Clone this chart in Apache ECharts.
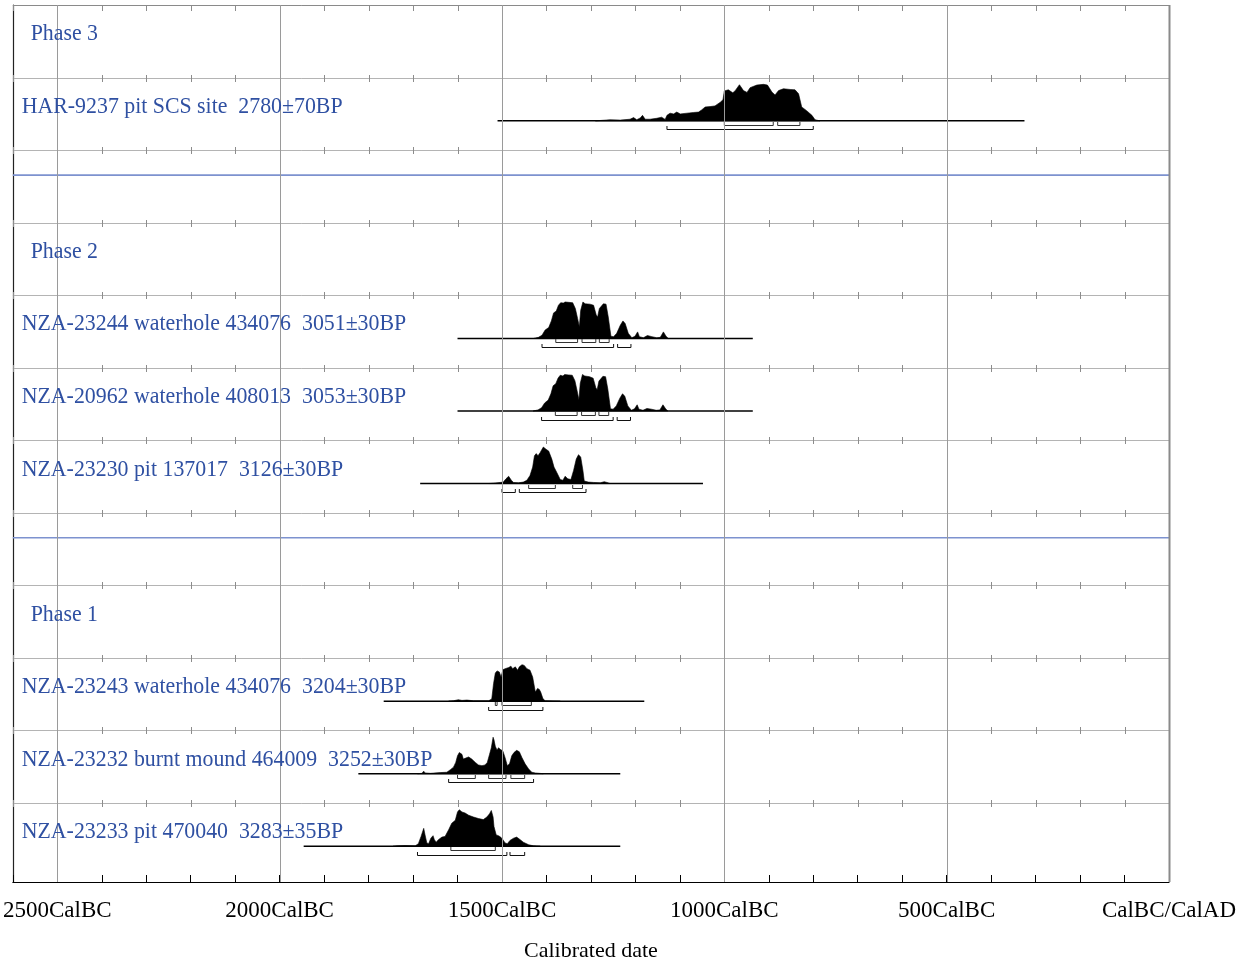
<!DOCTYPE html>
<html><head><meta charset="utf-8">
<script src="https://cdn.jsdelivr.net/npm/echarts@6/dist/echarts.min.js"></script>
<style>html,body{margin:0;padding:0;background:#fff}#c{width:1252px;height:967px}</style>
</head><body><div id="c"></div>
<script>
// ---- axis ----
const tickValues = [-2500, -2000, -1500, -1000, -500, 0];
const tickLabels = ['2500CalBC', '2000CalBC', '1500CalBC', '1000CalBC', '500CalBC', 'CalBC/CalAD'];
const axisTitle = 'Calibrated date';

// ---- rows (top to bottom) ----
const rowLabels = [
  'Phase 3',
  'HAR-9237 pit SCS site  2780±70BP',
  '',
  'Phase 2',
  'NZA-23244 waterhole 434076  3051±30BP',
  'NZA-20962 waterhole 408013  3053±30BP',
  'NZA-23230 pit 137017  3126±30BP',
  '',
  'Phase 1',
  'NZA-23243 waterhole 434076  3204±30BP',
  'NZA-23232 burnt mound 464009  3252±30BP',
  'NZA-23233 pit 470040  3283±35BP'
];
const phaseRows = [0, 3, 8];
const separatorRows = [2, 7];

// ---- distributions: [year BC, relative probability] ----
const har9237 = [[1290,0],[1257,0.03],[1234,0.02],[1212,0.045],[1204,0.09],[1197,0.03],[1189,0.08],[1184,0.15],[1178,0.045],[1167,0.045],[1152,0.07],[1141,0.10],[1133,0.04],[1129,0.15],[1122,0.21],[1114,0.19],[1107,0.24],[1099,0.19],[1084,0.21],[1069,0.23],[1058,0.24],[1051,0.30],[1043,0.38],[1032,0.39],[1021,0.41],[1009,0.51],[1003,0.58],[1000,0.82],[991,0.85],[981,0.77],[976,0.82],[966,0.99],[957,0.83],[949,0.78],[942,0.91],[927,0.98],[912,1.0],[903,0.98],[893,0.79],[886,0.71],[878,0.83],[867,0.88],[852,0.86],[841,0.85],[833,0.74],[826,0.38],[815,0.28],[803,0.15],[796,0.03],[785,0]];
const nza23244 = [[1429,0],[1418,0.03],[1410,0.09],[1403,0.23],[1395,0.30],[1389,0.48],[1384,0.70],[1378,0.75],[1373,0.91],[1368,0.98],[1362,0.97],[1358,1.0],[1350,0.99],[1341,0.98],[1335,0.82],[1330,0.55],[1326,0.32],[1323,0.77],[1318,1.0],[1313,0.95],[1302,0.94],[1294,0.91],[1288,0.64],[1285,0.59],[1281,0.82],[1272,0.95],[1266,0.94],[1261,0.59],[1255,0.06],[1249,0.05],[1242,0.14],[1234,0.36],[1228,0.48],[1223,0.41],[1216,0.14],[1208,0.02],[1201,0.06],[1195,0.18],[1191,0.05],[1182,0.02],[1173,0.08],[1163,0.05],[1152,0.02],[1144,0.03],[1137,0.18],[1131,0.06],[1126,0]];
const nza20962 = [[1430,0],[1419,0.03],[1411,0.09],[1404,0.22],[1396,0.30],[1390,0.47],[1385,0.69],[1379,0.75],[1374,0.90],[1369,0.98],[1363,0.96],[1359,1.0],[1351,0.99],[1342,0.98],[1336,0.83],[1331,0.55],[1327,0.31],[1324,0.76],[1319,1.0],[1314,0.96],[1303,0.94],[1295,0.90],[1289,0.64],[1286,0.58],[1282,0.82],[1273,0.95],[1267,0.94],[1262,0.60],[1256,0.06],[1250,0.05],[1243,0.14],[1235,0.35],[1229,0.47],[1224,0.41],[1217,0.14],[1209,0.02],[1202,0.06],[1196,0.17],[1192,0.05],[1183,0.02],[1174,0.07],[1164,0.05],[1153,0.02],[1145,0.03],[1138,0.17],[1132,0.06],[1127,0]];
const nza23230 = [[1530,0],[1519,0.01],[1504,0.03],[1497,0.04],[1491,0.13],[1485,0.20],[1479,0.09],[1474,0.03],[1463,0.02],[1452,0.04],[1444,0.09],[1437,0.22],[1431,0.45],[1427,0.76],[1423,0.82],[1419,0.76],[1414,0.85],[1410,0.94],[1407,1.0],[1401,0.94],[1395,0.89],[1388,0.67],[1383,0.45],[1377,0.31],[1369,0.11],[1363,0.09],[1358,0.20],[1352,0.13],[1345,0.11],[1339,0.36],[1333,0.67],[1328,0.79],[1323,0.73],[1318,0.36],[1315,0.07],[1306,0.04],[1294,0.03],[1279,0.02],[1270,0.05],[1264,0.03],[1257,0]];
const nza23243 = [[1620,0],[1609,0.01],[1598,0.04],[1590,0.02],[1579,0.03],[1564,0.01],[1530,0.01],[1523,0.06],[1519,0.48],[1515,0.77],[1511,0.83],[1506,0.80],[1502,0.66],[1498,0.86],[1493,0.89],[1485,0.92],[1480,0.96],[1476,0.89],[1470,0.94],[1465,0.85],[1461,0.94],[1455,1.0],[1450,0.98],[1444,0.89],[1437,0.85],[1431,0.66],[1425,0.25],[1420,0.35],[1416,0.32],[1413,0.25],[1408,0.07],[1403,0.01],[1369,0]];
const nza23232 = [[1690,0],[1680,0.01],[1676,0.07],[1673,0.02],[1661,0.01],[1639,0.03],[1624,0.04],[1616,0.11],[1609,0.18],[1604,0.31],[1600,0.49],[1596,0.58],[1590,0.53],[1587,0.40],[1583,0.42],[1575,0.46],[1568,0.40],[1560,0.31],[1553,0.24],[1545,0.22],[1538,0.24],[1533,0.31],[1528,0.53],[1524,0.71],[1520,1.0],[1518,0.93],[1515,0.75],[1511,0.64],[1508,0.71],[1503,0.66],[1498,0.62],[1493,0.44],[1488,0.22],[1483,0.27],[1478,0.49],[1473,0.58],[1467,0.64],[1461,0.60],[1455,0.44],[1448,0.27],[1440,0.13],[1433,0.04],[1425,0.02],[1407,0]];
const nza23233 = [[1745,0],[1736,0.01],[1718,0.02],[1695,0.01],[1688,0.07],[1682,0.27],[1676,0.49],[1673,0.31],[1669,0.09],[1665,0.07],[1660,0.22],[1655,0.29],[1652,0.18],[1648,0.11],[1643,0.18],[1635,0.25],[1628,0.27],[1620,0.45],[1613,0.63],[1605,0.71],[1600,0.94],[1596,1.0],[1590,0.94],[1583,0.91],[1575,0.85],[1564,0.80],[1553,0.76],[1542,0.73],[1534,0.80],[1528,0.89],[1524,0.98],[1520,0.80],[1518,0.54],[1513,0.31],[1508,0.29],[1503,0.25],[1498,0.18],[1493,0.09],[1488,0.07],[1482,0.16],[1474,0.22],[1467,0.25],[1459,0.18],[1452,0.11],[1440,0.04],[1429,0.01],[1414,0]];

// calculation spans [from BC, to BC]
const spans = [[1510,325],[1600,936],[1600,936],[1684,1048],[1766,1180],[1823,1234],[1946,1234]];
// 68.2% ranges
const ranges68 = [
  [[1000,890],[880,830]],
  [[1379,1330],[1320,1289],[1281,1259]],
  [[1380,1331],[1321,1290],[1282,1260]],
  [[1440,1380],[1341,1319]],
  [[1515,1511],[1500,1434]],
  [[1600,1560],[1530,1491],[1480,1449]],
  [[1615,1515]]
];
// 95.4% ranges
const ranges95 = [
  [[1129,800]],
  [[1410,1249],[1240,1210]],
  [[1411,1250],[1241,1211]],
  [[1500,1470],[1461,1311]],
  [[1530,1408]],
  [[1620,1429]],
  [[1690,1489],[1482,1449]]
];
const sampleRows = [1, 4, 5, 6, 9, 10, 11];
const sampleDists = [har9237, nza23244, nza20962, nza23230, nza23243, nza23232, nza23233];

// ---- style constants ----
const BASE = 0.597, HEIGHT = 0.503;
const labelColor = '#2f50a2';
const gridGray = '#9a9a9a';
const serif = '"Liberation Serif", "Times New Roman", serif';

const chart = echarts.init(document.getElementById('c'), null, {renderer: 'canvas'});

function px(v) { return Math.round(v) + 0.5; }

function renderGrid(params, api) {
  const children = [];
  const nRows = rowLabels.length;
  const xl = api.coord([-2600, 0])[0], xr = api.coord([0, 0])[0];
  const yTop = api.coord([0, 0])[1];
  const yBot = api.coord([0, 12.09])[1];
  // row lines with ticks
  for (let r = 0; r < nRows; r++) {
    const y = px(api.coord([0, r])[1]);
    children.push({type: 'line', shape: {x1: xl, y1: y, x2: xr, y2: y}, style: {stroke: r === 0 ? '#8a8a8a' : '#b4b4b4', lineWidth: 1}});
    for (let t = -2600; t <= 0; t += 100) {
      const x = px(api.coord([t, r])[0]);
      const up = r === 0 ? 0 : 3.5, down = r === 0 ? 5.5 : 3.5;
      children.push({type: 'line', shape: {x1: x, y1: y - up, x2: x, y2: y + down}, style: {stroke: '#8c8c8c', lineWidth: 1}});
    }
  }
  // separators
  separatorRows.forEach(function (r) {
    const y = api.coord([0, r + 0.345])[1];
    children.push({type: 'line', shape: {x1: xl, y1: y, x2: xr, y2: y}, style: {stroke: '#7d92cf', lineWidth: 1.6}});
  });
  // major vertical grid lines
  tickValues.forEach(function (v) {
    const x = px(api.coord([v, 0])[0]);
    children.push({type: 'line', shape: {x1: x, y1: yTop, x2: x, y2: yBot}, style: {stroke: v === 0 ? '#8a8a8a' : gridGray, lineWidth: v === 0 ? 2 : 1}});
  });
  return {type: 'group', children: children};
}

function renderDist(params, api) {
  const i = params.dataIndex;
  const row = sampleRows[i];
  const dist = sampleDists[i];
  const children = [];
  const yb = api.coord([0, row + BASE])[1];
  const pts = [];
  pts.push(api.coord([-dist[0][0], row + BASE]));
  dist.forEach(function (d) { pts.push(api.coord([-d[0], row + BASE - d[1] * HEIGHT])); });
  pts.push(api.coord([-dist[dist.length - 1][0], row + BASE]));
  children.push({type: 'polygon', shape: {points: pts}, style: {fill: '#000', stroke: '#000', lineWidth: 0.6}});
  const s = spans[i];
  children.push({type: 'line', shape: {x1: api.coord([-s[0], 0])[0], y1: yb, x2: api.coord([-s[1], 0])[0], y2: yb}, style: {stroke: '#000', lineWidth: 1.5}});
  function bracket(rg, off, color) {
    const y = Math.round(yb + off) + 0.5;
    const x1 = api.coord([-rg[0], 0])[0], x2 = api.coord([-rg[1], 0])[0];
    children.push({type: 'polyline', shape: {points: [[x1, y - 3.5], [x1, y], [x2, y], [x2, y - 3.5]]}, style: {stroke: color, lineWidth: 1, fill: null}});
  }
  ranges68[i].forEach(function (rg) { bracket(rg, 4, '#333'); });
  ranges95[i].forEach(function (rg) { bracket(rg, 8.5, '#111'); });
  return {type: 'group', children: children};
}

function renderLabels(params, api) {
  const children = [];
  rowLabels.forEach(function (txt, r) {
    if (!txt) return;
    const isPhase = phaseRows.indexOf(r) >= 0;
    const p = api.coord([isPhase ? -2560 : -2580, r + 0.40]);
    children.push({
      type: 'text', x: p[0], y: p[1], scaleX: 0.91, scaleY: 1,
      style: {text: txt, fill: labelColor, fontSize: 24, fontFamily: serif, align: 'left', verticalAlign: 'middle'}
    });
  });
  return {type: 'group', children: children};
}

const option = {
  animation: false,
  backgroundColor: '#fff',
  grid: {left: 12, right: 83, top: 5, bottom: 85, containLabel: false},
  xAxis: {
    type: 'value', min: -2600, max: 0, interval: 100, position: 'bottom',
    axisLine: {show: true, onZero: false, lineStyle: {color: '#000', width: 1.2}},
    axisTick: {show: true, inside: true, length: 7, lineStyle: {color: '#000', width: 1}},
    splitLine: {show: false},
    axisLabel: {
      margin: 17, color: '#000', fontSize: 23, fontFamily: serif,
      formatter: function (v) { const k = tickValues.indexOf(v); return k >= 0 ? tickLabels[k] : ''; }
    },
    name: axisTitle, nameLocation: 'middle', nameGap: 58,
    nameTextStyle: {color: '#000', fontSize: 22, fontFamily: serif}
  },
  yAxis: {
    type: 'value', min: 0, max: 12.09, inverse: true, position: 'left',
    axisLine: {show: true, onZero: false, lineStyle: {color: '#222', width: 1.2}},
    axisTick: {show: false}, axisLabel: {show: false}, splitLine: {show: false}
  },
  series: [
    {type: 'custom', name: 'dist', renderItem: renderDist, data: sampleRows.map(function (r, i) { return [i]; }), z: 2, silent: true, clip: false},
    {type: 'custom', name: 'grid', renderItem: renderGrid, data: [[0]], z: 3, silent: true, clip: false},
    {type: 'custom', name: 'labels', renderItem: renderLabels, data: [[0]], z: 4, silent: true, clip: false}
  ]
};
chart.setOption(option);
</script>
</body></html>
